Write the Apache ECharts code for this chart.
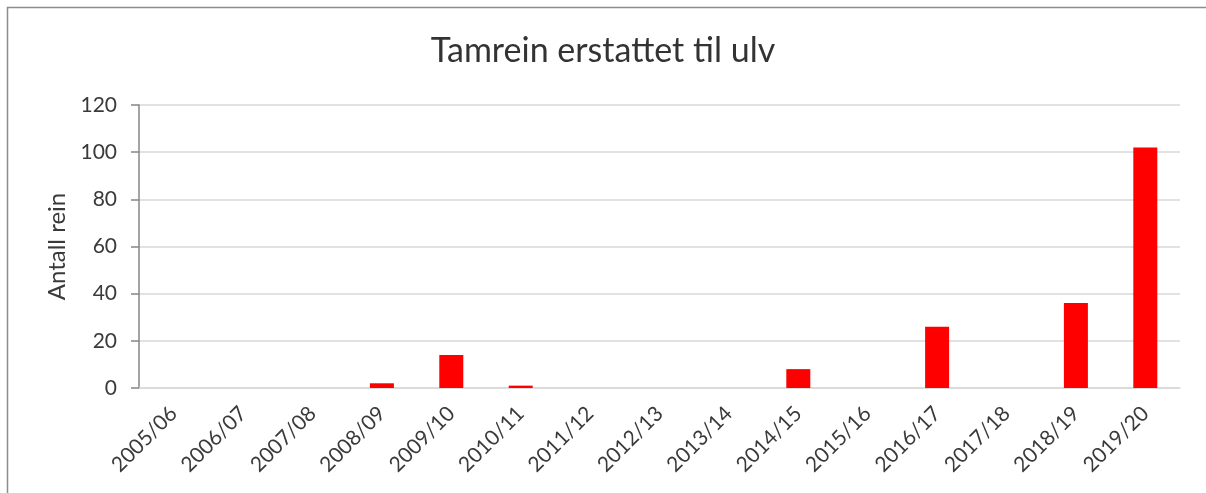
<!DOCTYPE html>
<html>
<head>
<meta charset="UTF-8">
<title>Tamrein erstattet til ulv</title>
<script src="https://cdn.jsdelivr.net/npm/echarts@6/dist/echarts.min.js"></script>
<style>
  html, body { margin: 0; padding: 0; background: #fff; }
  #chart { width: 1206px; height: 493px; }
</style>
</head>
<body>
<div id="chart"></div>
<script>
// sesonger og antall tamrein erstattet
var seasons = ['2005/06', '2006/07', '2007/08', '2008/09', '2009/10', '2010/11', '2011/12',
  '2012/13', '2013/14', '2014/15', '2015/16', '2016/17', '2017/18', '2018/19', '2019/20'];
var reindeer = [0, 0, 0, 2, 14, 1, 0, 0, 0, 8, 0, 26, 0, 36, 102];
var yTicks = [0, 20, 40, 60, 80, 100, 120];

var chart = echarts.init(document.getElementById('chart'));
chart.setOption({
  animation: false,
  textStyle: { fontFamily: 'Lato, "Open Sans", sans-serif' },
  title: {
    text: 'Tamrein erstattet til ulv',
    left: 'center',
    top: 29,
    textStyle: { fontSize: 34, fontWeight: 'normal', color: '#333333', fontFamily: 'Lato' }
  },
  graphic: [{
    type: 'rect',
    shape: { x: 7.5, y: 7.5, width: 1300, height: 600 },
    style: { fill: 'none', stroke: '#8c8c8c', lineWidth: 1.5 },
    silent: true
  }],
  grid: { left: 139, right: 26, top: 105, bottom: 105 },
  xAxis: {
    type: 'category',
    data: seasons,
    axisLine: { lineStyle: { color: '#d9d9d9', width: 1.5 } },
    axisTick: { show: false },
    axisLabel: { rotate: 45, color: '#3a3a3a', fontSize: 21, margin: 22, interval: 0 }
  },
  yAxis: {
    type: 'value',
    min: yTicks[0],
    max: yTicks[yTicks.length - 1],
    interval: 20,
    name: 'Antall rein',
    nameLocation: 'middle',
    nameGap: 67,
    nameTextStyle: { fontSize: 24, color: '#3a3a3a' },
    axisLine: { show: true, lineStyle: { color: '#868686', width: 1.5 } },
    axisTick: { show: true, length: 8, lineStyle: { color: '#868686', width: 1.5 } },
    axisLabel: { color: '#3a3a3a', fontSize: 21, margin: 22 },
    splitLine: { lineStyle: { color: '#d9d9d9', width: 1.5 } }
  },
  series: [{
    type: 'bar',
    data: reindeer,
    barWidth: 24,
    itemStyle: { color: '#ff0000' }
  }]
});
</script>
</body>
</html>
